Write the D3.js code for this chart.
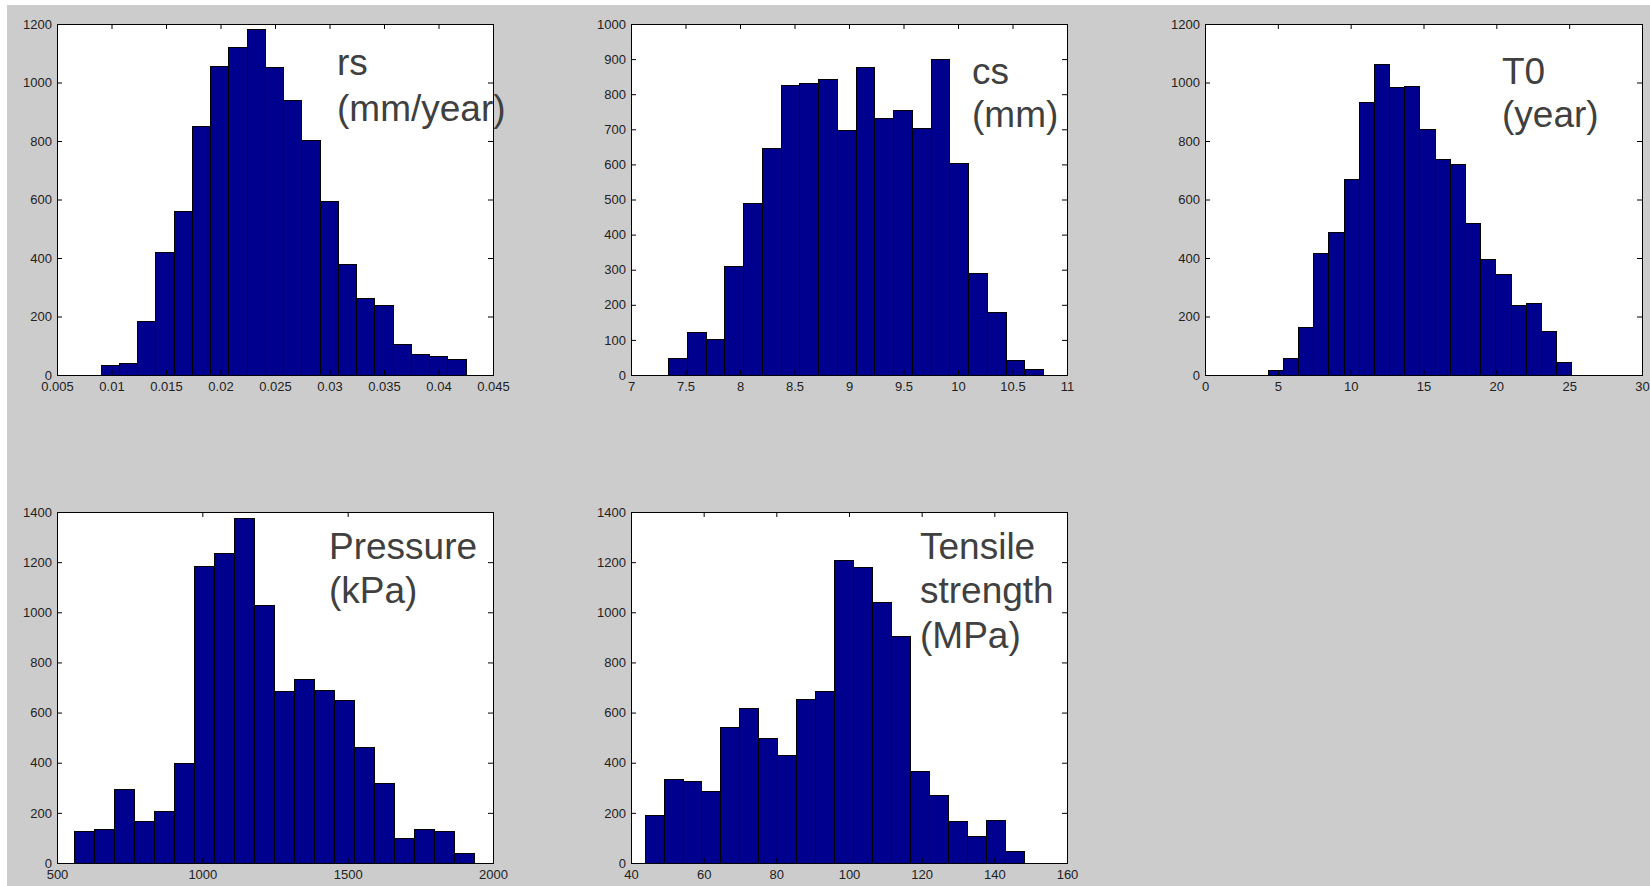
<!DOCTYPE html>
<html>
<head>
<meta charset="utf-8">
<script src="https://cdnjs.cloudflare.com/ajax/libs/d3/7.8.5/d3.min.js"></script>
<style>
  body { margin: 0; background: #fff; }
  svg { display: block; }
  .tick text { font-family: "Liberation Sans", Arial, sans-serif; font-size: 13px; fill: #222; }
  .label { font-family: "Liberation Sans", Arial, sans-serif; font-size: 37px; fill: #404040; }
</style>
</head>
<body>
<svg id="fig" width="1650" height="886"></svg>
<script>
// Histogram counts, 20 equal bins per panel.
// The range is [left edge of first bin, right edge of last bin].

// rs (mm/year)
var rsCounts = [35, 40, 185, 419, 560, 850, 1057, 1122, 1182, 1053, 940, 805, 594, 379, 262, 241, 105, 73, 66, 54];
var rsRange = [0.0090, 0.0425];
var rsXTicks = [0.005, 0.01, 0.015, 0.02, 0.025, 0.03, 0.035, 0.04, 0.045];
var rsYTicks = [0, 200, 400, 600, 800, 1000, 1200];

// cs (mm)
var csCounts = [48, 122, 103, 310, 490, 648, 826, 832, 842, 697, 877, 732, 756, 705, 901, 605, 291, 179, 43, 18];
var csRange = [7.34, 10.78];
var csXTicks = [7, 7.5, 8, 8.5, 9, 9.5, 10, 10.5, 11];
var csYTicks = [0, 100, 200, 300, 400, 500, 600, 700, 800, 900, 1000];

// T0 (year)
var t0Counts = [16, 58, 163, 416, 488, 671, 934, 1062, 984, 987, 841, 739, 722, 520, 398, 345, 240, 245, 152, 43];
var t0Range = [4.3, 25.15];
var t0XTicks = [0, 5, 10, 15, 20, 25, 30];
var t0YTicks = [0, 200, 400, 600, 800, 1000, 1200];

// Pressure (kPa)
var pressureCounts = [127, 134, 297, 168, 208, 400, 1184, 1237, 1377, 1029, 688, 734, 692, 650, 463, 321, 101, 135, 127, 41];
var pressureRange = [557.5, 1935];
var pressureXTicks = [500, 1000, 1500, 2000];
var pressureYTicks = [0, 200, 400, 600, 800, 1000, 1200, 1400];

// Tensile strength (MPa)
var tensileCounts = [192, 336, 326, 289, 544, 617, 497, 430, 655, 688, 1208, 1179, 1041, 906, 366, 273, 166, 106, 170, 46];
var tensileRange = [43.75, 148.1];
var tensileXTicks = [40, 60, 80, 100, 120, 140, 160];
var tensileYTicks = [0, 200, 400, 600, 800, 1000, 1200, 1400];

var panels = [
  {counts: rsCounts, range: rsRange, xTicks: rsXTicks, yTicks: rsYTicks, text: ["rs", "(mm/year)"],
   left: 57, top: 24, width: 436, lx: 280, ly: 51, lh: 45.5},
  {counts: csCounts, range: csRange, xTicks: csXTicks, yTicks: csYTicks, text: ["cs", "(mm)"],
   left: 631, top: 24, width: 436, lx: 341, ly: 59.5, lh: 43},
  {counts: t0Counts, range: t0Range, xTicks: t0XTicks, yTicks: t0YTicks, text: ["T0", "(year)"],
   left: 1205, top: 24, width: 437, lx: 297, ly: 59.5, lh: 43},
  {counts: pressureCounts, range: pressureRange, xTicks: pressureXTicks, yTicks: pressureYTicks, text: ["Pressure", "(kPa)"],
   left: 57, top: 512, width: 436, lx: 272, ly: 46.5, lh: 44.5},
  {counts: tensileCounts, range: tensileRange, xTicks: tensileXTicks, yTicks: tensileYTicks, text: ["Tensile", "strength", "(MPa)"],
   left: 631, top: 512, width: 436, lx: 289, ly: 46.5, lh: 44.5}
];

var height = 351;
var svg = d3.select("#fig");

// figure background (MATLAB grey), thin white strip on top/left like the screenshot
svg.append("rect").attr("width", 1650).attr("height", 886).attr("fill", "#fff");
svg.append("rect").attr("x", 7).attr("y", 5).attr("width", 1643).attr("height", 881).attr("fill", "#cccccc");

panels.forEach(function(p) {
  var x = d3.scaleLinear()
      .domain([p.xTicks[0], p.xTicks[p.xTicks.length - 1]])
      .range([0, p.width]);
  var y = d3.scaleLinear()
      .domain([0, p.yTicks[p.yTicks.length - 1]])
      .range([height, 0]);

  var n = p.counts.length;
  var binW = (p.range[1] - p.range[0]) / n;
  var bins = p.counts.map(function(c, i) {
    return {x0: p.range[0] + i * binW, x1: p.range[0] + (i + 1) * binW, count: c};
  });

  var g = svg.append("g")
      .attr("transform", "translate(" + p.left + "," + p.top + ")");

  g.append("rect")
      .attr("x", 0.5).attr("y", 0.5)
      .attr("width", p.width).attr("height", height)
      .attr("fill", "#fff");

  g.selectAll("rect.bar")
      .data(bins)
    .enter().append("rect")
      .attr("class", "bar")
      .attr("x", function(d) { return Math.round(x(d.x0)) + 0.5; })
      .attr("y", function(d) { return Math.round(y(d.count)) + 0.5; })
      .attr("width", function(d) { return Math.round(x(d.x1)) - Math.round(x(d.x0)); })
      .attr("height", function(d) { return Math.round(y(0)) - Math.round(y(d.count)); })
      .attr("fill", "#00008f")
      .attr("stroke", "#000")
      .attr("stroke-width", 1);

  var fmt = function(d) { return String(d); };

  g.append("g")
      .attr("transform", "translate(0," + height + ")")
      .call(d3.axisBottom(x).tickValues(p.xTicks).tickFormat(fmt).tickSizeInner(-5).tickSizeOuter(0).tickPadding(7))
      .call(function(a) { a.select(".domain").remove(); });

  g.append("g")
      .call(d3.axisTop(x).tickValues(p.xTicks).tickFormat("").tickSizeInner(-5).tickSizeOuter(0))
      .call(function(a) { a.select(".domain").remove(); });

  g.append("g")
      .call(d3.axisLeft(y).tickValues(p.yTicks).tickFormat(fmt).tickSizeInner(-5).tickSizeOuter(0).tickPadding(5))
      .call(function(a) { a.select(".domain").remove(); });

  g.append("g")
      .attr("transform", "translate(" + p.width + ",0)")
      .call(d3.axisRight(y).tickValues(p.yTicks).tickFormat("").tickSizeInner(-5).tickSizeOuter(0))
      .call(function(a) { a.select(".domain").remove(); });

  g.selectAll(".tick line").attr("stroke", "#000");

  // axes box
  g.append("rect")
      .attr("x", 0.5).attr("y", 0.5)
      .attr("width", p.width).attr("height", height)
      .attr("fill", "none")
      .attr("stroke", "#000");

  // big annotation text
  p.text.forEach(function(t, i) {
    g.append("text")
        .attr("class", "label")
        .attr("x", p.lx)
        .attr("y", p.ly + i * p.lh)
        .text(t);
  });
});
</script>
</body>
</html>
